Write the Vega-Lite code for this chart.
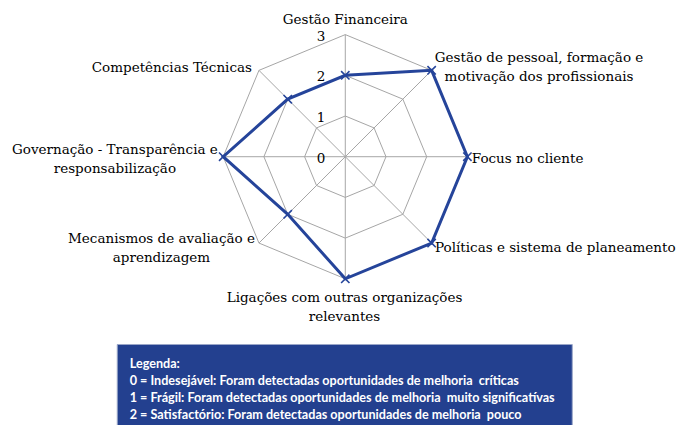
{
  "$schema": "https://vega.github.io/schema/vega-lite/v6.json",
  "padding": 0,
  "spacing": 0,
  "center": true,
  "background": "white",
  "config": {"view": {"stroke": null}, "font": "DejaVu Serif", "axis": {"disable": true}},
  "datasets": {
    "axes": [
      {"k": 0, "label": "Gestão Financeira", "value": 2},
      {"k": 1, "label": "Gestão de pessoal, formação e\nmotivação dos profissionais", "value": 3},
      {"k": 2, "label": "Focus no cliente", "value": 3},
      {"k": 3, "label": "Políticas e sistema de planeamento", "value": 3},
      {"k": 4, "label": "Ligações com outras organizações\nrelevantes", "value": 3},
      {"k": 5, "label": "Mecanismos de avaliação e\naprendizagem", "value": 2},
      {"k": 6, "label": "Governação - Transparência e\nresponsabilização", "value": 3},
      {"k": 7, "label": "Competências Técnicas", "value": 2}
    ],
    "levels": [{"level": 0}, {"level": 1}, {"level": 2}, {"level": 3}],
    "legend": [
      {"line": 0, "text": "Legenda:"},
      {"line": 1, "text": "0 = Indesejável: Foram detectadas oportunidades de melhoria\u00a0 críticas"},
      {"line": 2, "text": "1 = Frágil: Foram detectadas oportunidades de melhoria\u00a0 muito significatívas"},
      {"line": 3, "text": "2 = Satisfactório: Foram detectadas oportunidades de melhoria\u00a0 pouco"}
    ]
  },
  "vconcat": [
    {
      "width": 689,
      "height": 343,
      "layer": [
        {
          "data": {"name": "axes"},
          "transform": [
            {"calculate": "datum.k * PI / 4", "as": "ang"},
            {"calculate": "3 * sin(datum.ang)", "as": "sx"},
            {"calculate": "3 * cos(datum.ang)", "as": "sy"},
            {"calculate": "0", "as": "z"}
          ],
          "mark": {"type": "rule", "color": "#a6a6a6", "strokeWidth": 1},
          "encoding": {
            "x": {"field": "sx", "type": "quantitative", "scale": {"domain": [-8.484, 8.445], "nice": false, "zero": false}},
            "y": {"field": "sy", "type": "quantitative", "scale": {"domain": [-4.577, 3.85], "nice": false, "zero": false}},
            "x2": {"field": "z"},
            "y2": {"field": "z"}
          }
        },
        {
          "data": {"name": "axes"},
          "transform": [
            {"calculate": "datum.k * PI / 4", "as": "ang"},
            {"calculate": "[1, 2, 3]", "as": "ring"},
            {"flatten": ["ring"]},
            {"calculate": "datum.ring * sin(datum.ang)", "as": "rx"},
            {"calculate": "datum.ring * cos(datum.ang)", "as": "ry"}
          ],
          "mark": {"type": "line", "interpolate": "linear-closed", "color": "#a6a6a6", "strokeWidth": 1},
          "encoding": {
            "x": {"field": "rx", "type": "quantitative"},
            "y": {"field": "ry", "type": "quantitative"},
            "detail": {"field": "ring", "type": "nominal"},
            "order": {"field": "k", "type": "quantitative"}
          }
        },
        {
          "data": {"name": "levels"},
          "transform": [{"calculate": "0", "as": "z"}],
          "mark": {"type": "text", "fontSize": 13.5, "align": "right", "baseline": "alphabetic", "dx": -20, "dy": 6, "color": "#000000"},
          "encoding": {
            "x": {"field": "z", "type": "quantitative"},
            "y": {"field": "level", "type": "quantitative"},
            "text": {"field": "level", "type": "quantitative"}
          }
        },
        {
          "data": {"name": "axes"},
          "transform": [
            {"calculate": "datum.k * PI / 4", "as": "ang"},
            {"calculate": "datum.value * sin(datum.ang)", "as": "vx"},
            {"calculate": "datum.value * cos(datum.ang)", "as": "vy"}
          ],
          "mark": {"type": "line", "interpolate": "linear-closed", "color": "#25449A", "strokeWidth": 3, "strokeJoin": "miter"},
          "encoding": {
            "x": {"field": "vx", "type": "quantitative"},
            "y": {"field": "vy", "type": "quantitative"},
            "order": {"field": "k", "type": "quantitative"}
          }
        },
        {
          "data": {"name": "axes"},
          "transform": [
            {"calculate": "datum.k * PI / 4", "as": "ang"},
            {"calculate": "datum.value * sin(datum.ang)", "as": "vx"},
            {"calculate": "datum.value * cos(datum.ang)", "as": "vy"}
          ],
          "mark": {"type": "point", "shape": "M-1,-1L1,1M-1,1L1,-1", "filled": false, "color": "#25449A", "strokeWidth": 1.6, "size": 70, "opacity": 1},
          "encoding": {
            "x": {"field": "vx", "type": "quantitative"},
            "y": {"field": "vy", "type": "quantitative"}
          }
        },
        {"data": {"name": "axes"}, "transform": [{"filter": "datum.k == 0"}, {"calculate": "datum.k * PI / 4", "as": "ang"}, {"calculate": "3 * sin(datum.ang)", "as": "lx"}, {"calculate": "3 * cos(datum.ang)", "as": "ly"}],
         "mark": {"type": "text", "fontSize": 13.5, "lineBreak": "\n", "lineHeight": 19, "baseline": "alphabetic", "align": "center", "dx": 0, "dy": -10.7, "color": "#000000"},
         "encoding": {"x": {"field": "lx", "type": "quantitative"}, "y": {"field": "ly", "type": "quantitative"}, "text": {"field": "label"}}},
        {"data": {"name": "axes"}, "transform": [{"filter": "datum.k == 1"}, {"calculate": "datum.k * PI / 4", "as": "ang"}, {"calculate": "3 * sin(datum.ang)", "as": "lx"}, {"calculate": "3 * cos(datum.ang)", "as": "ly"}],
         "mark": {"type": "text", "fontSize": 13.5, "lineBreak": "\n", "lineHeight": 19, "baseline": "alphabetic", "align": "center", "dx": 107.4, "dy": -8.7, "color": "#000000"},
         "encoding": {"x": {"field": "lx", "type": "quantitative"}, "y": {"field": "ly", "type": "quantitative"}, "text": {"field": "label"}}},
        {"data": {"name": "axes"}, "transform": [{"filter": "datum.k == 2"}, {"calculate": "datum.k * PI / 4", "as": "ang"}, {"calculate": "3 * sin(datum.ang)", "as": "lx"}, {"calculate": "3 * cos(datum.ang)", "as": "ly"}],
         "mark": {"type": "text", "fontSize": 13.5, "lineBreak": "\n", "lineHeight": 19, "baseline": "alphabetic", "align": "left", "dx": 4.4, "dy": 6, "color": "#000000"},
         "encoding": {"x": {"field": "lx", "type": "quantitative"}, "y": {"field": "ly", "type": "quantitative"}, "text": {"field": "label"}}},
        {"data": {"name": "axes"}, "transform": [{"filter": "datum.k == 3"}, {"calculate": "datum.k * PI / 4", "as": "ang"}, {"calculate": "3 * sin(datum.ang)", "as": "lx"}, {"calculate": "3 * cos(datum.ang)", "as": "ly"}],
         "mark": {"type": "text", "fontSize": 13.5, "lineBreak": "\n", "lineHeight": 19, "baseline": "alphabetic", "align": "left", "dx": 3.4, "dy": 9.3, "color": "#000000"},
         "encoding": {"x": {"field": "lx", "type": "quantitative"}, "y": {"field": "ly", "type": "quantitative"}, "text": {"field": "label"}}},
        {"data": {"name": "axes"}, "transform": [{"filter": "datum.k == 4"}, {"calculate": "datum.k * PI / 4", "as": "ang"}, {"calculate": "3 * sin(datum.ang)", "as": "lx"}, {"calculate": "3 * cos(datum.ang)", "as": "ly"}],
         "mark": {"type": "text", "fontSize": 13.5, "lineBreak": "\n", "lineHeight": 19, "baseline": "alphabetic", "align": "center", "dx": -0.8, "dy": 23, "color": "#000000"},
         "encoding": {"x": {"field": "lx", "type": "quantitative"}, "y": {"field": "ly", "type": "quantitative"}, "text": {"field": "label"}}},
        {"data": {"name": "axes"}, "transform": [{"filter": "datum.k == 5"}, {"calculate": "datum.k * PI / 4", "as": "ang"}, {"calculate": "3 * sin(datum.ang)", "as": "lx"}, {"calculate": "3 * cos(datum.ang)", "as": "ly"}],
         "mark": {"type": "text", "fontSize": 13.5, "lineBreak": "\n", "lineHeight": 19, "baseline": "alphabetic", "align": "center", "dx": -97.5, "dy": -0.3, "color": "#000000"},
         "encoding": {"x": {"field": "lx", "type": "quantitative"}, "y": {"field": "ly", "type": "quantitative"}, "text": {"field": "label"}}},
        {"data": {"name": "axes"}, "transform": [{"filter": "datum.k == 6"}, {"calculate": "datum.k * PI / 4", "as": "ang"}, {"calculate": "3 * sin(datum.ang)", "as": "lx"}, {"calculate": "3 * cos(datum.ang)", "as": "ly"}],
         "mark": {"type": "text", "fontSize": 13.5, "lineBreak": "\n", "lineHeight": 19, "baseline": "alphabetic", "align": "center", "dx": -108.3, "dy": -2.7, "color": "#000000"},
         "encoding": {"x": {"field": "lx", "type": "quantitative"}, "y": {"field": "ly", "type": "quantitative"}, "text": {"field": "label"}}},
        {"data": {"name": "axes"}, "transform": [{"filter": "datum.k == 7"}, {"calculate": "datum.k * PI / 4", "as": "ang"}, {"calculate": "3 * sin(datum.ang)", "as": "lx"}, {"calculate": "3 * cos(datum.ang)", "as": "ly"}],
         "mark": {"type": "text", "fontSize": 13.5, "lineBreak": "\n", "lineHeight": 19, "baseline": "alphabetic", "align": "right", "dx": -7, "dy": 1.3, "color": "#000000"},
         "encoding": {"x": {"field": "lx", "type": "quantitative"}, "y": {"field": "ly", "type": "quantitative"}, "text": {"field": "label"}}}
      ]
    },
    {
      "width": 455,
      "height": 85,
      "view": {"fill": "#23408F", "stroke": "#9aa6c8", "strokeWidth": 1},
      "data": {"name": "legend"},
      "mark": {"type": "text", "font": "Lato", "fontWeight": "bold", "fontSize": 12.6, "color": "#ffffff", "align": "left", "baseline": "alphabetic", "dx": 13},
      "encoding": {
        "x": {"value": 0},
        "y": {"field": "line", "type": "quantitative", "scale": {"domain": [-1.43, 3.57], "reverse": true, "nice": false, "zero": false}},
        "text": {"field": "text"}
      }
    }
  ]
}
